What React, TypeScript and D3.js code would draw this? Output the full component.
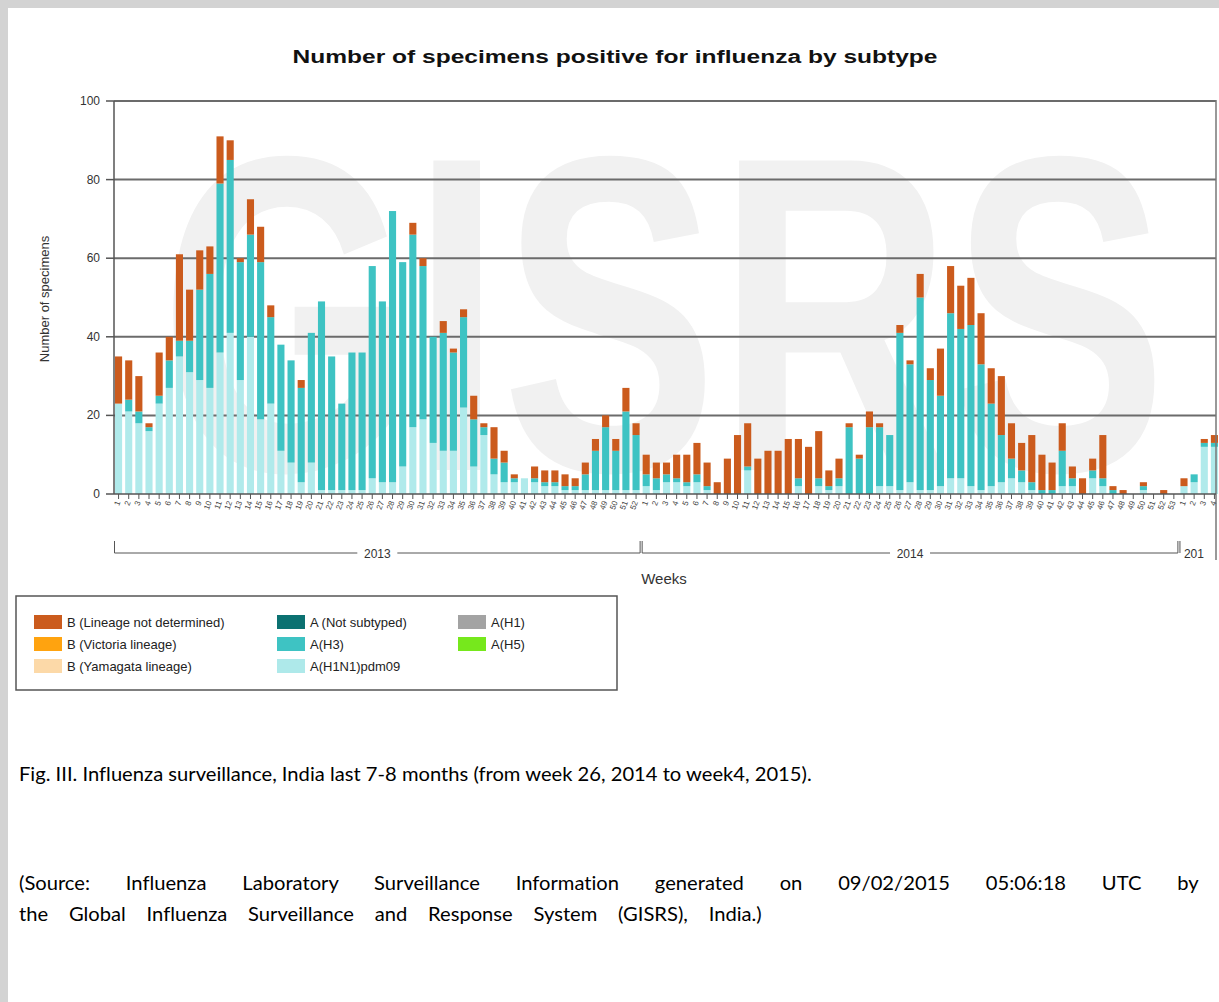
import React, { useLayoutEffect, useRef, useState } from "react";
import * as d3 from "d3";

// ---- data ----
const years = ["2013", "2014", "201"];
const weeksPerYear = [52, 53, 4];

// A(H1N1)pdm09
const h1n1 = [
  23, 21, 18, 16, 23, 27, 35, 31, 29, 27, 36, 41, 29, 40, 19, 23, 11, 8, 3, 8,
  1, 1, 1, 1, 1, 4, 3, 3, 7, 17, 19, 13, 11, 11, 22, 7, 15, 5, 3, 3,
  4, 3, 2, 2, 1, 1, 1, 1, 1, 1, 1, 1,
  2, 1, 3, 3, 2, 3, 1, 0, 0, 0, 6, 0, 0, 0, 0, 2, 0, 2, 1, 2,
  0, 0, 0, 2, 2, 1, 3, 1, 1, 2, 4, 4, 2, 1, 2, 3, 4, 3, 1, 0,
  0, 2, 2, 0, 4, 2, 0, 0, 0, 1, 0, 0, 0,
  2, 3, 12, 12,
];
// A(H3)
const h3 = [
  0, 3, 3, 1, 2, 7, 4, 8, 23, 29, 43, 44, 30, 26, 40, 22, 27, 26, 24, 33,
  48, 34, 22, 35, 35, 54, 46, 69, 52, 49, 39, 27, 30, 25, 23, 12, 2, 4, 5, 1,
  0, 1, 1, 1, 1, 1, 4, 10, 16, 10, 20, 14,
  3, 3, 2, 1, 1, 2, 1, 0, 0, 0, 1, 0, 0, 0, 0, 2, 0, 2, 1, 2,
  17, 9, 17, 15, 13, 40, 30, 49, 28, 23, 42, 38, 41, 32, 21, 12, 5, 3, 2, 1,
  1, 9, 2, 0, 2, 2, 1, 0, 0, 1, 0, 0, 0,
  0, 2, 1, 1,
];
// B (Lineage not determined)
const bUnd = [
  12, 10, 9, 1, 11, 6, 22, 13, 10, 7, 12, 5, 1, 9, 9, 3, 0, 0, 2, 0,
  0, 0, 0, 0, 0, 0, 0, 0, 0, 3, 2, 0, 3, 1, 2, 6, 1, 8, 3, 1,
  0, 3, 3, 3, 3, 2, 3, 3, 3, 3, 6, 3,
  5, 4, 3, 6, 7, 8, 6, 3, 9, 15, 11, 9, 11, 11, 14, 10, 12, 12, 4, 5,
  1, 1, 4, 1, 0, 2, 1, 6, 3, 12, 12, 11, 12, 13, 9, 15, 9, 7, 12, 9,
  7, 7, 3, 4, 3, 11, 1, 1, 0, 1, 0, 1, 0,
  2, 0, 1, 2,
];

const yTicks = [0, 20, 40, 60, 80, 100];

const legendItems = [
  { label: "B (Lineage not determined)", color: "#cb5b1d" },
  { label: "B (Victoria lineage)", color: "#ffa30f" },
  { label: "B (Yamagata lineage)", color: "#fcd9a8" },
  { label: "A (Not subtyped)", color: "#0b7171" },
  { label: "A(H3)", color: "#3ec3c3" },
  { label: "A(H1N1)pdm09", color: "#aee9ea" },
  { label: "A(H1)", color: "#a3a3a3" },
  { label: "A(H5)", color: "#76e81c" },
];

const seriesKeys = ["h1n1", "h3", "bUnd"];
const seriesColors: Record<string, string> = {
  h1n1: "#b0eaeb",
  h3: "#3ec3c3",
  bUnd: "#cb5b1d",
};

const captionLines = [
  "Fig. III. Influenza surveillance, India last 7-8 months (from week 26, 2014 to week4, 2015).",
  "(Source: Influenza Laboratory Surveillance Information generated on 09/02/2015 05:06:18 UTC by",
  "the Global Influenza Surveillance and Response System (GISRS), India.)",
];

export default function App() {
  const W = 1219;
  const H = 1002;
  const left = 114;
  const rightEdge = 1219;
  const y0 = 494;
  const yTop = 101;
  const doc = "Lato, 'Open Sans', sans-serif";
  const sans = "'Liberation Sans', Arial, sans-serif";
  const capFs = 20;

  const svgRef = useRef<SVGSVGElement>(null);
  const [sx, setSx] = useState(0.94);
  const [ws, setWs] = useState<number[]>([0, 0, 0]);

  useLayoutEffect(() => {
    const svg = svgRef.current;
    if (!svg) return;
    const t = d3
      .select(svg)
      .append("text")
      .attr("font-family", doc)
      .attr("font-size", capFs)
      .style("font-variant-ligatures", "none")
      .text(captionLines[0]);
    const node = t.node() as SVGTextElement;
    const w1 = node.getComputedTextLength();
    const s = 793 / w1;
    const targets = [793, 1180, 743];
    const spacing = captionLines.map((line, i) => {
      if (i === 0) return 0;
      t.text(line);
      const w = node.getComputedTextLength();
      const n = line.split(" ").length - 1;
      return (targets[i] / s - w) / n;
    });
    t.remove();
    setSx(s);
    setWs(spacing);
  }, []);

  // categories
  const cats: { key: string; week: number; yearIdx: number }[] = [];
  weeksPerYear.forEach((n, yi) => {
    d3.range(1, n + 1).forEach((w) => cats.push({ key: `${yi}-${w}`, week: w, yearIdx: yi }));
  });
  const rows = cats.map((c, i) => ({ key: c.key, h1n1: h1n1[i], h3: h3[i], bUnd: bUnd[i] }));

  const x = d3
    .scaleBand<string>()
    .domain(cats.map((c) => c.key))
    .range([left, rightEdge])
    .paddingInner(0.3)
    .paddingOuter(0.1);
  const y = d3.scaleLinear().domain([0, 100]).range([y0, yTop]);

  const stacked = d3.stack<any>().keys(seriesKeys)(rows);

  // year brackets
  let startIdx = 0;
  const brackets = weeksPerYear.map((n, yi) => {
    const first = cats[startIdx].key;
    const last = cats[startIdx + n - 1].key;
    const x1 = (x(first) as number) - 0.5;
    const x2 = (x(last) as number) + x.bandwidth() + 0.5;
    startIdx += n;
    return { label: years[yi], x1, x2, full: yi < 2 };
  });

  const captionY = [781, 890, 921];

  return (
    <div style={{ position: "absolute", left: 0, top: 0 }}>
      <svg ref={svgRef} width={W} height={H} style={{ display: "block", background: "#fff" }}>
        {/* page frame */}
        <rect x={0} y={0} width={W} height={8} fill="#d3d3d3" />
        <rect x={0} y={0} width={8} height={H} fill="#d3d3d3" />

        {/* watermark */}
        <text
          x={160}
          y={470}
          fontFamily={sans}
          fontWeight="bold"
          fontSize={450}
          fill="#f1f1f1"
          textLength={1007}
          lengthAdjust="spacingAndGlyphs"
        >
          GISRS
        </text>

        {/* title */}
        <text
          x={615}
          y={63}
          textAnchor="middle"
          fontFamily={sans}
          fontWeight="bold"
          fontSize={18}
          fill="#111"
          textLength={645}
          lengthAdjust="spacingAndGlyphs"
        >
          Number of specimens positive for influenza by subtype
        </text>

        {/* gridlines */}
        {yTicks.map((t) => (
          <g key={t}>
            {t > 0 && (
              <line x1={left} x2={1216} y1={y(t)} y2={y(t)} stroke="#6b6b6b" strokeWidth={2} />
            )}
            <line x1={106} x2={left} y1={y(t)} y2={y(t)} stroke="#555" strokeWidth={1.5} />
            <text x={100} y={y(t) + 4} textAnchor="end" fontFamily={sans} fontSize={12} fill="#333">
              {t}
            </text>
          </g>
        ))}

        {/* bars */}
        {stacked.map((s) => (
          <g key={s.key} fill={seriesColors[s.key]}>
            {s.map((d, i) =>
              d[1] > d[0] ? (
                <rect
                  key={i}
                  x={x(rows[i].key)}
                  y={y(d[1])}
                  width={x.bandwidth()}
                  height={y(d[0]) - y(d[1])}
                />
              ) : null
            )}
          </g>
        ))}

        {/* axes */}
        <line x1={left} x2={left} y1={yTop} y2={y0} stroke="#555" strokeWidth={1.5} />
        <line x1={1216} x2={1216} y1={yTop - 1} y2={560} stroke="#777" strokeWidth={1.5} />
        <line x1={left} x2={1216} y1={y0} y2={y0} stroke="#555" strokeWidth={1.5} />
        {cats.map((c) => {
          const cx = (x(c.key) as number) + x.bandwidth() / 2;
          return (
            <g key={c.key}>
              <line x1={cx} x2={cx} y1={y0} y2={y0 + 5} stroke="#555" strokeWidth={1} />
              <text
                transform={`translate(${cx + 2},${y0 + 8}) rotate(-70)`}
                textAnchor="end"
                fontFamily={sans}
                fontSize={8}
                fill="#444"
              >
                {c.week}
              </text>
            </g>
          );
        })}

        {/* year brackets */}
        {brackets.map((b) => {
          const mid = (b.x1 + b.x2) / 2;
          return (
            <g key={b.label}>
              {b.full ? (
                <path
                  d={`M${b.x1},541V553H${mid - 20}M${mid + 20},553H${b.x2}V541`}
                  fill="none"
                  stroke="#555"
                  strokeWidth={1}
                />
              ) : (
                <path d={`M${b.x1},541V553`} fill="none" stroke="#555" strokeWidth={1} />
              )}
              <text
                x={b.full ? mid : b.x1 + 4}
                y={558}
                textAnchor={b.full ? "middle" : "start"}
                fontFamily={sans}
                fontSize={12}
                fill="#333"
              >
                {b.label}
              </text>
            </g>
          );
        })}

        {/* axis titles */}
        <text
          transform="translate(49,299) rotate(-90)"
          textAnchor="middle"
          fontFamily={sans}
          fontSize={13}
          fill="#333"
        >
          Number of specimens
        </text>
        <text x={664} y={584} textAnchor="middle" fontFamily={sans} fontSize={15} fill="#333">
          Weeks
        </text>

        {/* legend */}
        <rect x={16} y={596} width={601} height={94} fill="#fff" stroke="#555" strokeWidth={1.5} />
        {legendItems.map((it, i) => {
          const col = Math.floor(i / 3);
          const row = i % 3;
          const lx = [34, 277, 458][col];
          const cy = 622 + row * 22;
          return (
            <g key={it.label}>
              <rect x={lx} y={cy - 7} width={28} height={14} fill={it.color} />
              <text x={lx + 33} y={cy + 4.5} fontFamily={sans} fontSize={13} fill="#222">
                {it.label}
              </text>
            </g>
          );
        })}

        {/* captions */}
        {captionLines.map((line, i) => (
          <text
            key={i}
            transform={`translate(19,${captionY[i]}) scale(${sx},1)`}
            fontFamily={doc}
            fontSize={capFs}
            fill="#000"
            style={{ fontVariantLigatures: "none", wordSpacing: `${ws[i]}px` }}
          >
            {line}
          </text>
        ))}
      </svg>
    </div>
  );
}
